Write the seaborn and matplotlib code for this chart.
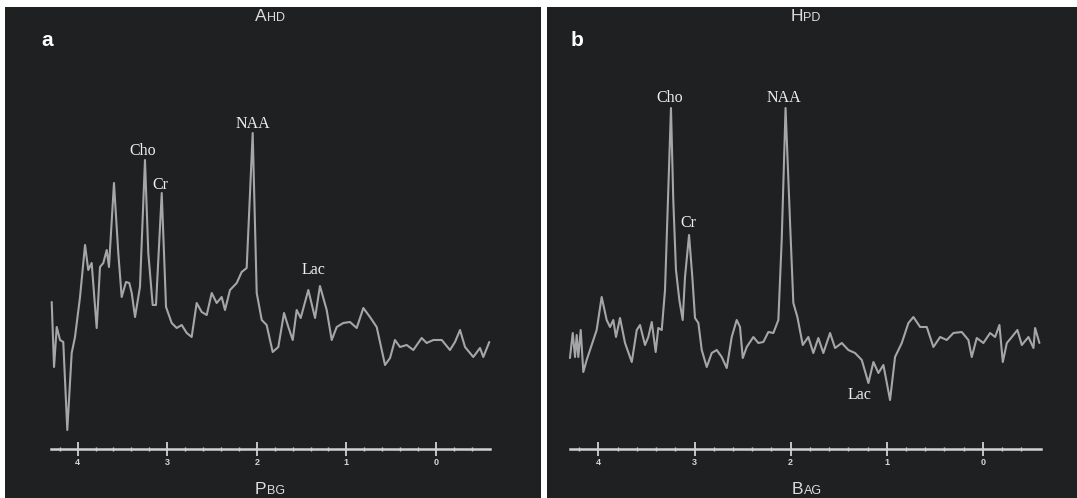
import numpy as np
import pandas as pd
import matplotlib
matplotlib.use("Agg")
import matplotlib.pyplot as plt
from matplotlib.ticker import FixedLocator
import seaborn as sns

# ---------------- data (ppm, signal in arbitrary units) ----------------
ppm_a = [4.289, 4.263, 4.233, 4.196, 4.160, 4.115, 4.066, 4.029, 3.973, 3.917,
         3.881, 3.843, 3.787, 3.750, 3.713, 3.675, 3.650, 3.594, 3.546, 3.508,
         3.460, 3.423, 3.396, 3.359, 3.304, 3.248, 3.211, 3.162, 3.125, 3.061,
         3.013, 2.950, 2.894, 2.838, 2.782, 2.727, 2.671, 2.615, 2.559, 2.503,
         2.448, 2.392, 2.355, 2.299, 2.224, 2.169, 2.113, 2.046, 2.001, 1.945,
         1.890, 1.823, 1.760, 1.696, 1.648, 1.599, 1.555, 1.510, 1.425, 1.350,
         1.295, 1.220, 1.164, 1.108, 1.035, 0.960, 0.885, 0.811, 0.737, 0.662,
         0.569, 0.513, 0.458, 0.402, 0.327, 0.253, 0.160, 0.104, 0.030, -0.064,
         -0.156, -0.212, -0.268, -0.324, -0.416, -0.491, -0.528, -0.595]
sig_a = [1.47, 0.82, 1.22, 1.09, 1.07, 0.19, 0.96, 1.12, 1.52, 2.04,
         1.79, 1.86, 1.21, 1.82, 1.86, 1.99, 1.82, 2.66, 1.96, 1.52,
         1.67, 1.66, 1.56, 1.32, 1.62, 2.89, 1.96, 1.44, 1.44, 2.56,
         1.42, 1.26, 1.21, 1.24, 1.16, 1.12, 1.46, 1.37, 1.34, 1.56,
         1.46, 1.52, 1.39, 1.59, 1.66, 1.77, 1.81, 3.16, 1.56, 1.29,
         1.24, 0.97, 1.02, 1.36, 1.22, 1.09, 1.39, 1.31, 1.59, 1.31,
         1.63, 1.39, 1.09, 1.22, 1.26, 1.27, 1.21, 1.41, 1.32, 1.22,
         0.84, 0.91, 1.09, 1.02, 1.04, 0.99, 1.11, 1.06, 1.09, 1.09,
         0.99, 1.07, 1.19, 1.02, 0.92, 1.01, 0.92, 1.07]

ppm_b = [4.296, 4.267, 4.243, 4.226, 4.209, 4.184, 4.157, 4.122, 4.070, 4.018,
         3.966, 3.914, 3.879, 3.845, 3.817, 3.775, 3.723, 3.653, 3.601, 3.567,
         3.515, 3.481, 3.445, 3.404, 3.377, 3.341, 3.307, 3.273, 3.245, 3.221,
         3.193, 3.158, 3.123, 3.099, 3.057, 3.023, 2.995, 2.960, 2.925, 2.873,
         2.821, 2.769, 2.717, 2.665, 2.613, 2.561, 2.527, 2.498, 2.457, 2.388,
         2.336, 2.284, 2.232, 2.180, 2.128, 2.093, 2.053, 2.006, 1.972, 1.930,
         1.874, 1.816, 1.764, 1.712, 1.660, 1.590, 1.538, 1.468, 1.400, 1.330,
         1.260, 1.191, 1.139, 1.087, 1.035, 0.966, 0.914, 0.844, 0.775, 0.723,
         0.653, 0.584, 0.515, 0.445, 0.376, 0.307, 0.220, 0.151, 0.116, 0.064,
         -0.005, -0.075, -0.127, -0.172, -0.207, -0.249, -0.301, -0.359, -0.405, -0.474,
         -0.526, -0.543, -0.588]
sig_b = [0.91, 1.16, 0.92, 1.14, 0.92, 1.19, 0.77, 0.89, 1.04, 1.19,
         1.52, 1.29, 1.22, 1.29, 1.12, 1.31, 1.06, 0.87, 1.19, 1.24,
         1.04, 1.12, 1.27, 0.97, 1.21, 1.19, 1.59, 2.59, 3.41, 2.49,
         1.79, 1.49, 1.29, 1.72, 2.14, 1.72, 1.31, 1.26, 0.99, 0.82,
         0.96, 0.99, 0.92, 0.81, 1.12, 1.29, 1.22, 0.91, 1.02, 1.12,
         1.06, 1.07, 1.17, 1.16, 1.29, 2.09, 3.41, 2.26, 1.46, 1.32,
         1.04, 1.12, 0.96, 1.11, 0.96, 1.16, 1.01, 1.06, 0.99, 0.96,
         0.89, 0.66, 0.87, 0.76, 0.84, 0.49, 0.92, 1.06, 1.26, 1.32,
         1.22, 1.22, 1.02, 1.12, 1.09, 1.16, 1.17, 1.09, 0.92, 1.11,
         1.06, 1.16, 1.12, 1.24, 0.87, 1.06, 1.12, 1.19, 1.04, 1.12,
         1.01, 1.21, 1.06]

major_ticks = [4, 3, 2, 1, 0]
major_labels = ["4", "3", "2", "1", "0"]
panel_letters = ["a", "b"]
top_titles = [("A", "HD"), ("H", "PD")]
bottom_titles = [("P", "BG"), ("B", "AG")]
peak_names_a = ["Cho", "Cr", "NAA", "Lac"]
peak_names_b = ["Cho", "Cr", "NAA", "Lac"]

# ---------------- style ----------------
sns.set_style("dark")
plt.rcParams["font.family"] = ["Liberation Sans", "DejaVu Sans"]

BG = "#1f2022"
TRACE = "#a6a6a6"
AXIS = "#d2d2d2"
TXT = "#eeeeee"

W, H = 1077, 498
fig = plt.figure(figsize=(W / 100, H / 100), dpi=100)
fig.patch.set_facecolor("white")

def make_panel(left_px, right_px, x4_px, x0_px):
    ax = fig.add_axes([left_px / W, 0, (right_px - left_px) / W, (H - 7) / H])
    ax.set_facecolor(BG)
    ppx = (x0_px - x4_px) / 4.0
    ax.set_xlim(4 + (x4_px - left_px) / ppx, -(right_px - x0_px) / ppx)
    ax.set_ylim((449 - 498) / 100, (449 - 7) / 100)
    return ax

ax_a = make_panel(5, 541, 77.6, 436.0)
ax_b = make_panel(547, 1077, 598.4, 982.9)

df_a = pd.DataFrame({"ppm": ppm_a, "signal": sig_a})
df_b = pd.DataFrame({"ppm": ppm_b, "signal": sig_b})

minor = [round(v, 1) for v in np.arange(-0.4, 4.21, 0.2) if abs(v - round(v)) > 1e-6]

for ax, df in [(ax_a, df_a), (ax_b, df_b)]:
    sns.lineplot(data=df, x="ppm", y="signal", ax=ax, color=TRACE, lw=1.5,
                 estimator=None, sort=False)
    ax.grid(False)
    ax.set_xlabel("")
    ax.set_ylabel("")
    ax.set_yticks([])
    for s in ["left", "right", "top"]:
        ax.spines[s].set_visible(False)
    sp = ax.spines["bottom"]
    sp.set_visible(True)
    sp.set_position(("data", 0))
    sp.set_bounds(-0.6, 4.3)
    sp.set_color(AXIS)
    sp.set_linewidth(1.8)
    ax.xaxis.set_major_locator(FixedLocator(major_ticks))
    ax.set_xticklabels(major_labels)
    ax.xaxis.set_minor_locator(FixedLocator(minor))
    ax.tick_params(axis="x", which="major", direction="inout", length=10,
                   width=1.3, color=AXIS, labelsize=6.5, labelcolor="#d6d6d6",
                   pad=1.5, bottom=True)
    ax.tick_params(axis="x", which="minor", direction="inout", length=3.5,
                   width=1.0, color=AXIS, bottom=True)
    for lab in ax.get_xticklabels():
        lab.set_fontweight("bold")

# peak labels
serif = ["Liberation Serif", "DejaVu Serif"]
lab_pos_a = [(3.27, 2.98), (3.08, 2.64), (2.04, 3.25), (1.37, 1.79)]
lab_pos_b = [(3.255, 3.51), (3.068, 2.26), (2.07, 3.51), (1.28, 0.54)]
for ax, names, pos in [(ax_a, peak_names_a, lab_pos_a), (ax_b, peak_names_b, lab_pos_b)]:
    for n, (x, y) in zip(names, pos):
        ax.text(x, y, n, color=TXT, fontsize=11.5, family=serif,
                ha="center", va="center")

# panel letters and titles (figure pixel positions)
def ftext(xp, yp, s, **kw):
    fig.text(xp / W, 1 - yp / H, s, **kw)

ftext(47, 40, "a", color="white", fontsize=15, fontweight="bold", ha="center", va="center")
ftext(577, 40, "b", color="white", fontsize=15, fontweight="bold", ha="center", va="center")

TITLE = "#dcdcdc"
for split, (big, small) in zip([267, 803], top_titles):
    ftext(split, 21, big, color=TITLE, fontsize=12.5, ha="right", va="baseline")
    ftext(split + 0.5, 21, small, color=TITLE, fontsize=9, ha="left", va="baseline")
for split, (big, small) in zip([266, 803], bottom_titles):
    ftext(split, 494, big, color=TITLE, fontsize=12.5, ha="right", va="baseline")
    ftext(split + 0.5, 494, small, color=TITLE, fontsize=9, ha="left", va="baseline")

fig.savefig("out.png", dpi=100, facecolor="white")
